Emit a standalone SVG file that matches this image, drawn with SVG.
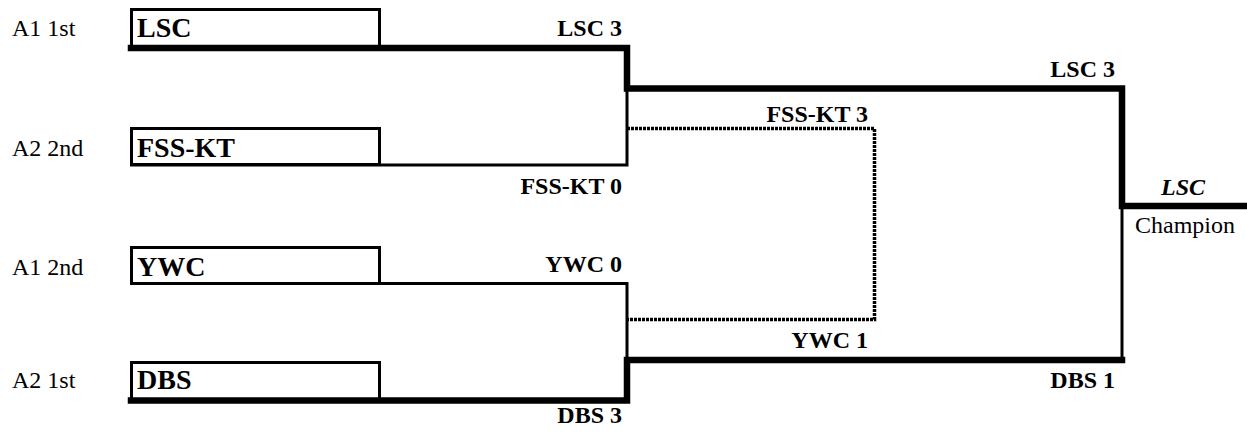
<svg xmlns="http://www.w3.org/2000/svg" width="1247" height="437" viewBox="0 0 1247 437">
<style>
text{font-family:"Liberation Serif","DejaVu Serif",serif;fill:#000}
.seed{font-size:24px}
.team{font-size:28px;font-weight:bold}
.lbl{font-size:24px;font-weight:bold;text-anchor:end}
.box{fill:#fff;stroke:#000;stroke-width:3}
.thick{fill:none;stroke:#000;stroke-width:6.5;stroke-linecap:square}
.thin{fill:none;stroke:#000;stroke-width:3}
.dot{fill:none;stroke:#000;stroke-width:3.5;stroke-dasharray:3 1}
</style>
<rect width="1247" height="437" fill="#fff"/>
<g id="node-lsc">
<text class="seed" x="12" y="36">A1 1st</text>
<rect class="box" x="131.5" y="9.5" width="248" height="38"/>
<text class="team" x="137" y="37">LSC</text>
</g>
<g id="node-fsskt">
<text class="seed" x="12" y="156">A2 2nd</text>
<rect class="box" x="131.5" y="128.5" width="248" height="36"/>
<text class="team" x="137" y="157">FSS-KT</text>
</g>
<g id="node-ywc">
<text class="seed" x="12" y="275">A1 2nd</text>
<rect class="box" x="131.5" y="247.5" width="248" height="36"/>
<text class="team" x="137" y="276">YWC</text>
</g>
<g id="node-dbs">
<text class="seed" x="12" y="388">A2 1st</text>
<rect class="box" x="131.5" y="362.5" width="248" height="38"/>
<text class="team" x="137" y="389">DBS</text>
</g>
<g id="connectors">
<path class="dot" d="M627,128.5 H874.5 V319.5 H627"/>
<path class="thin" d="M130,165 H627 V88"/>
<path class="thin" d="M130,283.5 H627 V360"/>
<path class="thin" d="M1122,206 V361.5"/>
<path class="thick" d="M131,48 H627 V88.5 H1122 V206 H1250"/>
<path class="thick" d="M131,400.5 H627 V360 H1122"/>
</g>
<g id="labels">
<text class="lbl" x="622" y="36">LSC 3</text>
<text class="lbl" x="622" y="194">FSS-KT 0</text>
<text class="lbl" x="622" y="272">YWC 0</text>
<text class="lbl" x="622" y="423">DBS 3</text>
<text class="lbl" x="1115" y="77">LSC 3</text>
<text class="lbl" x="868" y="122">FSS-KT 3</text>
<text class="lbl" x="868" y="348">YWC 1</text>
<text class="lbl" x="1115" y="388">DBS 1</text>
</g>
<g id="node-champion">
<text class="lbl" x="1183" y="195" style="text-anchor:middle;font-style:italic">LSC</text>
<text class="seed" x="1185" y="233" style="text-anchor:middle">Champion</text>
</g>
</svg>
